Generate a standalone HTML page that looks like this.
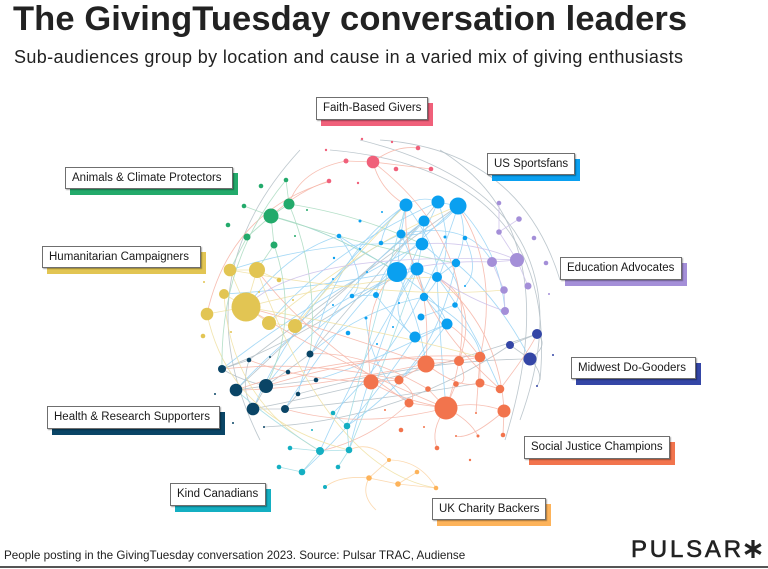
<!DOCTYPE html>
<html><head><meta charset="utf-8"><style>
html,body{margin:0;padding:0;background:#fff;}
body{width:768px;height:569px;position:relative;overflow:hidden;font-family:"Liberation Sans",Arial,sans-serif;color:#1a1a1a;}
.t{position:absolute;white-space:nowrap;line-height:1;}
.lab{position:absolute;}
.lab .c{position:absolute;left:5px;top:6px;right:-5px;bottom:-6px;}
.lab .b{position:absolute;left:0;top:0;right:0;bottom:0;background:#fff;border:1px solid #6f6f6f;box-shadow:1px 1px 1px rgba(0,0,0,.35);font-size:11.5px;line-height:21px;padding-left:6px;color:#1a1a1a;white-space:nowrap;box-sizing:border-box;}
</style></head><body>
<div class="t" style="left:13px;top:2px;font-size:34.5px;font-weight:bold;color:#222;letter-spacing:0.1px;">The GivingTuesday conversation leaders</div>
<div class="t" style="left:14px;top:48px;font-size:18px;letter-spacing:0.38px;color:#222;">Sub-audiences group by location and cause in a varied mix of giving enthusiasts</div>

<svg width="768" height="569" style="position:absolute;left:0;top:0" xmlns="http://www.w3.org/2000/svg">
<g fill="none" stroke-width="0.85" stroke-opacity="0.85">
<g stroke="#b3bec6">
<path d="M330 150 Q560 170 540 380"/><path d="M440 150 Q570 230 505 440"/><path d="M300 150 Q180 280 260 440"/><path d="M380 140 Q520 150 560 280"/><path d="M360 140 Q600 200 520 420"/>
<path d="M236 390 L266 386"/><path d="M266 386 L253 409"/><path d="M253 409 L285 409"/><path d="M222 369 L249 360"/><path d="M266 386 L310 354"/><path d="M266 386 L316 380"/><path d="M285 409 L298 394"/><path d="M222 369 Q240 380 266 386"/><path d="M253 409 Q400 380 537 334"/><path d="M264 427 Q400 420 510 345"/><path d="M249 360 Q380 260 458 206"/><path d="M310 354 Q390 260 438 202"/><path d="M298 394 Q420 360 530 359"/><path d="M249 360 Q240 390 253 409"/><path d="M236 390 Q330 300 424 221"/><path d="M285 409 Q380 400 480 383"/><path d="M222 369 Q300 340 397 272"/>
<path d="M537 334 L510 345"/><path d="M510 345 L530 359"/><path d="M537 334 Q550 345 530 359"/><path d="M530 359 Q545 375 537 386"/>
</g>
<g stroke="#96d2f4">
<path d="M406 205 Q422 195 438 202"/><path d="M438 202 L458 206"/><path d="M406 205 L401 234"/><path d="M401 234 L397 272"/><path d="M424 221 L422 244"/><path d="M422 244 L417 269"/><path d="M417 269 L437 277"/><path d="M397 272 Q370 290 352 296"/><path d="M397 272 Q360 250 339 236"/><path d="M458 206 Q470 235 456 263"/><path d="M456 263 L437 277"/><path d="M424 297 L447 324"/><path d="M447 324 L415 337"/><path d="M415 337 Q390 315 376 295"/><path d="M376 295 L352 296"/><path d="M421 317 L455 305"/><path d="M381 243 Q385 220 406 205"/><path d="M339 236 Q290 250 246 307"/><path d="M397 272 Q330 230 270 216"/><path d="M406 205 Q340 250 318 330"/><path d="M458 206 Q420 330 333 413"/><path d="M438 202 Q380 330 349 450"/><path d="M417 269 Q330 300 266 386"/><path d="M422 244 Q320 240 230 270"/><path d="M437 277 Q470 320 500 389"/><path d="M424 297 Q360 310 310 354"/><path d="M397 272 Q420 320 426 364"/><path d="M458 206 Q500 250 505 311"/><path d="M456 263 Q500 300 530 359"/><path d="M401 234 Q340 260 294 326"/><path d="M352 296 Q290 330 236 390"/><path d="M447 324 Q400 390 347 426"/><path d="M415 337 Q360 420 302 472"/><path d="M366 318 Q370 370 409 403"/><path d="M401 234 Q430 300 424 297"/><path d="M465 238 Q480 270 465 286"/>
<path d="M438 202 Q460 260 424 297"/><path d="M406 205 Q440 250 437 277"/><path d="M458 206 Q430 240 401 234"/><path d="M424 221 Q380 270 376 295"/><path d="M397 272 Q440 300 447 324"/><path d="M417 269 Q380 310 415 337"/><path d="M422 244 Q470 280 455 305"/><path d="M339 236 Q370 280 352 296"/><path d="M406 205 Q300 300 253 409"/><path d="M438 202 Q330 250 269 323"/><path d="M458 206 Q350 300 285 409"/><path d="M424 221 Q320 300 298 394"/><path d="M417 269 Q360 360 320 451"/><path d="M437 277 Q440 340 446 408"/><path d="M424 297 Q480 330 480 357"/><path d="M401 234 Q470 220 492 262"/><path d="M397 272 Q300 290 224 294"/><path d="M422 244 Q310 300 222 369"/><path d="M456 263 Q440 340 399 380"/><path d="M447 324 Q380 360 316 380"/>
</g>
<g stroke="#f6b4a6">
<path d="M373 162 L346 161"/><path d="M373 162 Q395 145 418 148"/><path d="M373 162 L431 169"/><path d="M329 181 Q300 190 271 216"/><path d="M346 161 Q300 170 289 204"/><path d="M373 162 Q380 190 406 205"/>
<path d="M426 364 L459 361"/><path d="M459 361 L480 357"/><path d="M426 364 L399 380"/><path d="M446 408 L409 403"/><path d="M446 408 Q475 400 504 411"/><path d="M480 383 L500 389"/><path d="M480 357 L480 383"/><path d="M456 384 L446 408"/><path d="M428 389 L446 408"/><path d="M504 411 L503 435"/><path d="M446 408 Q470 420 478 436"/><path d="M426 364 Q330 330 246 307"/><path d="M459 361 Q350 350 236 390"/><path d="M480 357 Q380 350 266 386"/><path d="M399 380 Q310 360 222 369"/><path d="M446 408 Q360 430 285 409"/><path d="M426 364 Q430 310 417 269"/><path d="M480 357 Q500 270 458 206"/><path d="M504 411 Q500 330 437 277"/><path d="M373 162 Q500 260 446 408"/><path d="M331 181 Q230 210 207 314"/><path d="M500 389 Q530 350 537 334"/><path d="M409 403 Q370 440 320 451"/><path d="M476 413 L480 357"/><path d="M371 382 L399 380"/><path d="M371 382 Q400 400 446 408"/><path d="M371 382 Q300 380 249 360"/>
<path d="M426 364 Q460 390 480 383"/><path d="M459 361 Q470 385 456 384"/><path d="M399 380 Q420 395 409 403"/><path d="M446 408 Q430 430 437 448"/><path d="M504 411 Q470 440 456 436"/><path d="M480 357 Q460 330 447 324"/><path d="M426 364 Q300 390 236 390"/><path d="M446 408 Q330 360 246 307"/><path d="M500 389 Q400 300 406 205"/><path d="M409 403 Q300 330 257 270"/><path d="M371 382 Q360 300 397 272"/><path d="M459 361 Q480 300 437 277"/><path d="M428 389 Q360 350 310 354"/>
</g>
<g stroke="#f0e1a2">
<path d="M246 307 L230 270"/><path d="M246 307 L207 314"/><path d="M246 307 L269 323"/><path d="M257 270 L246 307"/><path d="M224 294 L246 307"/><path d="M269 323 L295 326"/><path d="M257 270 L279 280"/><path d="M230 270 L257 270"/><path d="M207 314 Q230 420 349 450"/><path d="M224 294 Q230 400 320 451"/><path d="M257 270 Q330 470 436 488"/><path d="M295 326 Q360 250 406 205"/><path d="M246 307 Q350 280 437 277"/><path d="M269 323 Q370 240 458 206"/><path d="M230 270 Q400 300 504 290"/><path d="M246 307 Q380 330 480 357"/>
</g>
<g stroke="#a9dbbf">
<path d="M271 216 L289 204"/><path d="M271 216 L247 237"/><path d="M271 216 L274 245"/><path d="M289 204 L286 180"/><path d="M271 216 L244 206"/><path d="M271 216 Q330 230 397 272"/><path d="M289 204 Q360 215 422 244"/><path d="M247 237 L230 270"/><path d="M274 245 L257 270"/><path d="M286 180 Q220 260 222 369"/><path d="M289 204 Q320 280 310 354"/><path d="M274 245 Q300 320 266 386"/><path d="M271 216 Q380 250 456 263"/>
</g>
<g stroke="#cdc1ea">
<path d="M499 232 L517 260"/><path d="M492 262 L517 260"/><path d="M519 219 L499 232"/><path d="M517 260 L528 286"/><path d="M504 290 L505 311"/><path d="M492 262 L504 290"/><path d="M517 260 Q470 240 422 244"/><path d="M492 262 Q440 260 397 272"/><path d="M505 311 Q470 300 437 277"/><path d="M499 203 L499 232"/><path d="M517 260 Q300 250 246 307"/>
</g>
<g stroke="#9edbe3">
<path d="M320 451 L349 450"/><path d="M347 426 L349 450"/><path d="M320 451 L302 472"/><path d="M333 413 L347 426"/><path d="M320 451 L290 448"/><path d="M302 472 L279 467"/><path d="M349 450 L338 467"/><path d="M347 426 Q380 300 406 205"/><path d="M320 451 Q270 420 236 390"/><path d="M349 450 Q390 350 417 269"/>
</g>
<g stroke="#fbd4a4">
<path d="M369 478 L389 460"/><path d="M369 478 L398 484"/><path d="M398 484 L417 472"/><path d="M389 460 Q420 460 436 488"/><path d="M369 478 Q340 475 325 487"/><path d="M398 484 L436 488"/><path d="M369 478 Q360 495 376 510"/><path d="M389 460 Q370 440 349 450"/>
</g>
</g>

<g fill="#f0607a">
<circle cx="373" cy="162" r="6.3"/><circle cx="346" cy="161" r="2.5"/><circle cx="329" cy="181" r="2.3"/><circle cx="362" cy="139" r="1.2"/><circle cx="326" cy="150" r="1.2"/><circle cx="358" cy="183" r="1.2"/><circle cx="392" cy="142" r="1.2"/><circle cx="418" cy="148" r="2.3"/><circle cx="396" cy="169" r="2.3"/><circle cx="431" cy="169" r="2.3"/>
</g>
<g fill="#23aa6b">
<circle cx="286" cy="180" r="2.3"/><circle cx="261" cy="186" r="2.3"/><circle cx="289" cy="204" r="5.5"/><circle cx="271" cy="216" r="7.5"/><circle cx="244" cy="206" r="2.3"/><circle cx="228" cy="225" r="2.3"/><circle cx="247" cy="237" r="3.5"/><circle cx="274" cy="245" r="3.5"/><circle cx="307" cy="210" r="1"/><circle cx="295" cy="236" r="1"/>
</g>
<g fill="#e2c553">
<circle cx="230" cy="270" r="6.3"/><circle cx="257" cy="270" r="8"/><circle cx="279" cy="280" r="2.3"/><circle cx="204" cy="282" r="1"/><circle cx="224" cy="294" r="5"/><circle cx="246" cy="307" r="14.5"/><circle cx="207" cy="314" r="6.3"/><circle cx="269" cy="323" r="7"/><circle cx="295" cy="326" r="7"/><circle cx="259" cy="292" r="1"/><circle cx="293" cy="300" r="1"/><circle cx="203" cy="336" r="2.3"/><circle cx="231" cy="332" r="1"/>
</g>
<g fill="#0aa0f0">
<circle cx="339" cy="236" r="2.3"/><circle cx="381" cy="243" r="2.3"/><circle cx="360" cy="221" r="1.5"/><circle cx="382" cy="212" r="1"/><circle cx="360" cy="249" r="1"/><circle cx="334" cy="258" r="1.2"/><circle cx="333" cy="279" r="1"/><circle cx="352" cy="296" r="2.3"/><circle cx="376" cy="295" r="3"/><circle cx="366" cy="318" r="1.5"/><circle cx="333" cy="305" r="1"/><circle cx="367" cy="272" r="1"/><circle cx="406" cy="205" r="6.5"/><circle cx="438" cy="202" r="6.5"/><circle cx="458" cy="206" r="8.5"/><circle cx="424" cy="221" r="5.5"/><circle cx="401" cy="234" r="4.5"/><circle cx="422" cy="244" r="6.3"/><circle cx="445" cy="237" r="1.5"/><circle cx="465" cy="238" r="2.3"/><circle cx="397" cy="272" r="10"/><circle cx="417" cy="269" r="6.5"/><circle cx="437" cy="277" r="5"/><circle cx="456" cy="263" r="4.2"/><circle cx="465" cy="286" r="1"/><circle cx="424" cy="297" r="4.2"/><circle cx="455" cy="305" r="2.8"/><circle cx="399" cy="303" r="1"/><circle cx="421" cy="317" r="3.5"/><circle cx="447" cy="324" r="5.5"/><circle cx="393" cy="327" r="1"/><circle cx="415" cy="337" r="5.5"/><circle cx="348" cy="333" r="2.3"/><circle cx="377" cy="344" r="1"/>
</g>
<g fill="#a48fd8">
<circle cx="499" cy="203" r="2.3"/><circle cx="519" cy="219" r="2.8"/><circle cx="499" cy="232" r="2.8"/><circle cx="534" cy="238" r="2.3"/><circle cx="492" cy="262" r="5"/><circle cx="517" cy="260" r="7"/><circle cx="546" cy="263" r="2.3"/><circle cx="528" cy="286" r="3.5"/><circle cx="504" cy="290" r="3.8"/><circle cx="549" cy="294" r="1"/><circle cx="505" cy="311" r="4"/>
</g>
<g fill="#3446a6">
<circle cx="537" cy="334" r="5"/><circle cx="510" cy="345" r="4"/><circle cx="530" cy="359" r="6.5"/><circle cx="553" cy="355" r="1"/><circle cx="537" cy="386" r="1"/>
</g>
<g fill="#f2744d">
<circle cx="426" cy="364" r="8.5"/><circle cx="459" cy="361" r="5"/><circle cx="480" cy="357" r="5.3"/><circle cx="399" cy="380" r="4.5"/><circle cx="428" cy="389" r="2.8"/><circle cx="456" cy="384" r="2.8"/><circle cx="480" cy="383" r="4.5"/><circle cx="500" cy="389" r="4.3"/><circle cx="409" cy="403" r="4.5"/><circle cx="446" cy="408" r="11.5"/><circle cx="504" cy="411" r="6.5"/><circle cx="385" cy="410" r="1"/><circle cx="476" cy="413" r="1"/><circle cx="401" cy="430" r="2.3"/><circle cx="424" cy="427" r="1"/><circle cx="456" cy="436" r="1"/><circle cx="478" cy="436" r="1.5"/><circle cx="503" cy="435" r="2.3"/><circle cx="437" cy="448" r="2.3"/><circle cx="470" cy="460" r="1.2"/><circle cx="371" cy="382" r="7.5"/>
</g>
<g fill="#0a4566">
<circle cx="249" cy="360" r="2.3"/><circle cx="270" cy="357" r="1"/><circle cx="310" cy="354" r="3.5"/><circle cx="222" cy="369" r="4"/><circle cx="288" cy="372" r="2.3"/><circle cx="316" cy="380" r="2.3"/><circle cx="236" cy="390" r="6.3"/><circle cx="266" cy="386" r="7"/><circle cx="298" cy="394" r="2.3"/><circle cx="253" cy="409" r="6.3"/><circle cx="285" cy="409" r="4"/><circle cx="215" cy="394" r="1"/><circle cx="233" cy="423" r="1"/><circle cx="264" cy="427" r="1"/>
</g>
<g fill="#14afc2">
<circle cx="333" cy="413" r="2.3"/><circle cx="347" cy="426" r="3.3"/><circle cx="312" cy="430" r="1"/><circle cx="290" cy="448" r="2.3"/><circle cx="320" cy="451" r="4"/><circle cx="349" cy="450" r="3.3"/><circle cx="279" cy="467" r="2.3"/><circle cx="302" cy="472" r="3.3"/><circle cx="338" cy="467" r="2.3"/><circle cx="325" cy="487" r="2"/>
</g>
<g fill="#fdb35a">
<circle cx="389" cy="460" r="2"/><circle cx="417" cy="472" r="2.3"/><circle cx="398" cy="484" r="2.8"/><circle cx="436" cy="488" r="2.3"/><circle cx="369" cy="478" r="2.8"/>
</g>
</svg>

<div class="lab" style="left:316px;top:97px;width:112px;height:23px;"><div class="c" style="background:#f0607a"></div><div class="b">Faith-Based Givers</div></div>
<div class="lab" style="left:487px;top:153px;width:88px;height:22px;"><div class="c" style="background:#0aa0f0"></div><div class="b">US Sportsfans</div></div>
<div class="lab" style="left:65px;top:167px;width:168px;height:22px;"><div class="c" style="background:#23aa6b"></div><div class="b">Animals &amp; Climate Protectors</div></div>
<div class="lab" style="left:42px;top:246px;width:159px;height:22px;"><div class="c" style="background:#e2c553"></div><div class="b">Humanitarian Campaigners</div></div>
<div class="lab" style="left:560px;top:257px;width:122px;height:23px;"><div class="c" style="background:#a48fd8"></div><div class="b">Education Advocates</div></div>
<div class="lab" style="left:571px;top:357px;width:125px;height:22px;"><div class="c" style="background:#3446a6"></div><div class="b">Midwest Do-Gooders</div></div>
<div class="lab" style="left:47px;top:406px;width:173px;height:23px;"><div class="c" style="background:#0a4566"></div><div class="b">Health &amp; Research Supporters</div></div>
<div class="lab" style="left:524px;top:436px;width:146px;height:23px;"><div class="c" style="background:#f2744d"></div><div class="b">Social Justice Champions</div></div>
<div class="lab" style="left:170px;top:483px;width:96px;height:23px;"><div class="c" style="background:#14afc2"></div><div class="b">Kind Canadians</div></div>
<div class="lab" style="left:432px;top:498px;width:114px;height:22px;"><div class="c" style="background:#fdb35a"></div><div class="b">UK Charity Backers</div></div>

<div class="t" style="left:4px;top:550px;font-size:11.7px;color:#222;">People posting in the GivingTuesday conversation 2023. Source: Pulsar TRAC, Audiense</div>
<div class="t" style="left:631px;top:538px;font-size:24px;letter-spacing:2.8px;color:#222;-webkit-text-stroke:0.6px #222;">PULSAR</div>
<svg width="20" height="20" style="position:absolute;left:743px;top:539px" viewBox="0 0 20 20"><g stroke="#222" stroke-width="3.2" stroke-linecap="butt"><line x1="10" y1="1" x2="10" y2="19"/><line x1="2.2" y1="5.5" x2="17.8" y2="14.5"/><line x1="2.2" y1="14.5" x2="17.8" y2="5.5"/></g></svg>
<div style="position:absolute;left:0;top:566px;width:768px;height:2px;background:#555;"></div>
</body></html>
